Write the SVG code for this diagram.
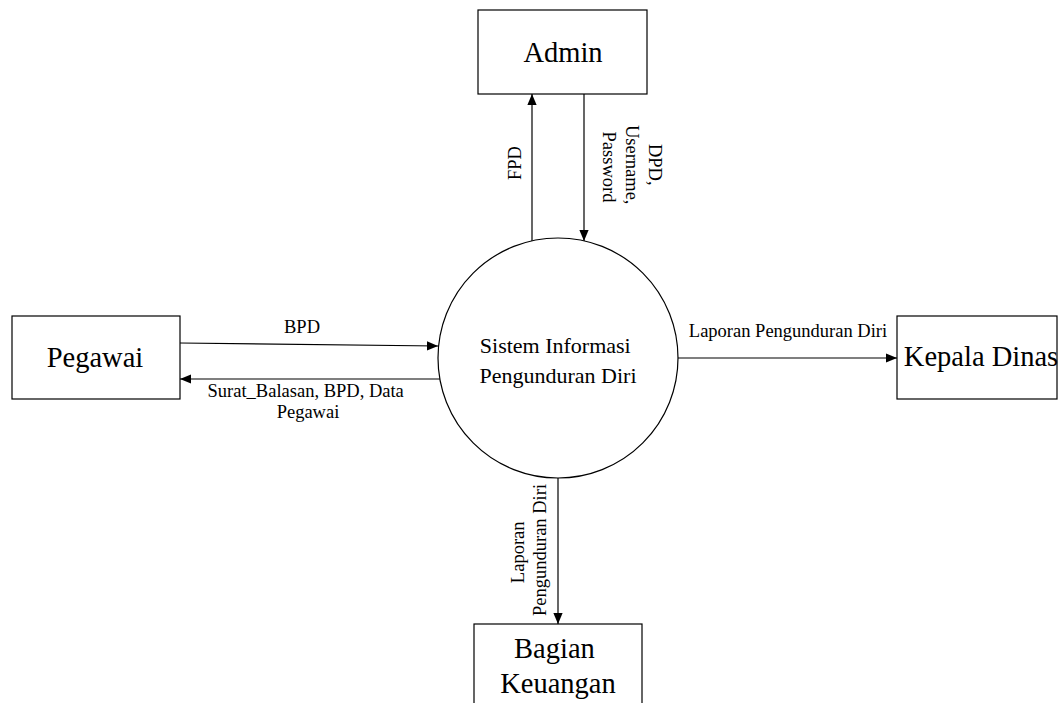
<svg xmlns="http://www.w3.org/2000/svg" width="1059" height="703" viewBox="0 0 1059 703">
  <defs>
    <marker id="arrow" viewBox="0 0 10 10" refX="10" refY="5" markerWidth="11" markerHeight="11" markerUnits="userSpaceOnUse" orient="auto">
      <path d="M0,0.8 L10,5 L0,9.2 Z" fill="#000"/>
    </marker>
    <style>
      .box { fill: #fff; stroke: #000; stroke-width: 1.2; }
      .proc { fill: #fff; stroke: #000; stroke-width: 1.2; }
      .flow { fill: none; stroke: #000; stroke-width: 1.2; marker-end: url(#arrow); }
      .node-label { font-family: "Liberation Serif", "Times New Roman", serif; font-size: 28.5px; fill: #000; text-anchor: middle; }
      .proc-label { font-family: "Liberation Serif", "Times New Roman", serif; font-size: 22px; fill: #000; text-anchor: middle; }
      .flow-label { font-family: "Liberation Serif", "Times New Roman", serif; font-size: 18.5px; fill: #000; text-anchor: middle; }
    </style>
  </defs>

  <rect width="1059" height="703" fill="#fff"/>

  <!-- data flows -->
  <g id="connectors">
    <line class="flow" x1="532" y1="241" x2="532" y2="94"/>
    <line class="flow" x1="584" y1="94" x2="584" y2="241"/>
    <line class="flow" x1="180" y1="343" x2="438" y2="346"/>
    <line class="flow" x1="440" y1="379" x2="180" y2="379"/>
    <line class="flow" x1="678" y1="358" x2="897" y2="358"/>
    <line class="flow" x1="558" y1="478" x2="558" y2="624"/>

    <text class="flow-label" transform="translate(521,163) rotate(-90)">FPD</text>
    <text class="flow-label" transform="translate(649,167) rotate(90)">
      <tspan x="0" y="0">DPD,</tspan>
      <tspan x="0" y="23">Username,</tspan>
      <tspan x="0" y="46">Password</tspan>
    </text>
    <text class="flow-label" x="302" y="333">BPD</text>
    <text class="flow-label">
      <tspan x="308" y="397">Surat_Balasan, BPD, Data</tspan>
      <tspan x="308" y="418">Pegawai</tspan>
    </text>
    <text class="flow-label" x="788" y="337">Laporan Pengunduran Diri</text>
    <text class="flow-label" transform="translate(524,550) rotate(-90)">
      <tspan x="0" y="0">Laporan</tspan>
      <tspan x="0" y="22">Pengunduran Diri</tspan>
    </text>
  </g>

  <!-- process -->
  <g id="sistem">
    <circle class="proc" cx="558" cy="358" r="120"/>
    <text class="proc-label">
      <tspan x="558" y="353">Sistem Informasi</tspan>
      <tspan x="558" y="383">Pengunduran Diri</tspan>
    </text>
  </g>

  <!-- external entities -->
  <g id="admin">
    <rect class="box" x="478" y="10" width="169" height="84"/>
    <text class="node-label" x="563" y="62">Admin</text>
  </g>

  <g id="pegawai">
    <rect class="box" x="12" y="316" width="168" height="83"/>
    <text class="node-label" x="95" y="367">Pegawai</text>
  </g>

  <g id="kepala-dinas">
    <rect class="box" x="897" y="316" width="160" height="83"/>
    <text class="node-label" x="981" y="366">Kepala Dinas</text>
  </g>

  <g id="bagian-keuangan">
    <rect class="box" x="474" y="624" width="168" height="90"/>
    <text class="node-label">
      <tspan x="558" y="658">Bagian</tspan>
      <tspan x="558" y="693">Keuangan</tspan>
    </text>
  </g>
</svg>
